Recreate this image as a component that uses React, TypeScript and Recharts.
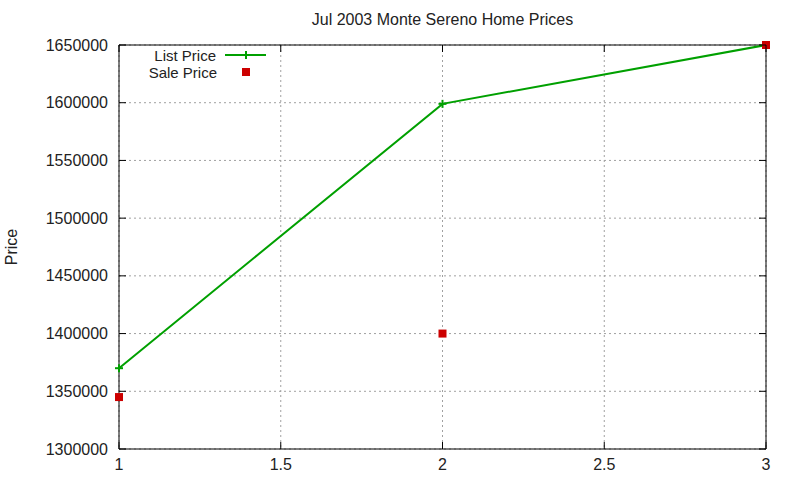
import React from "react";
import {
  LineChart,
  Line,
  XAxis,
  YAxis,
  CartesianGrid,
  ReferenceArea,
  Legend,
} from "recharts";

// Jul 2003 Monte Sereno list vs sale prices, gnuplot look.
const months = [1, 2, 3];
const listPrice = [1370000, 1599000, 1650000];
const salePrice = [1345000, 1400000, 1650000];
const xTicks = [1, 1.5, 2, 2.5, 3];
const yTicks = [1300000, 1350000, 1400000, 1450000, 1500000, 1550000, 1600000, 1650000];

const data = months.map((m, i) => ({ x: m, list: listPrice[i], sale: salePrice[i] }));

const GREEN = "#00a000";
const RED = "#cc0000";
const FONT = "'Liberation Sans', Arial, sans-serif";

const W = 800;
const H = 480;
const PLOT_LEFT = 119;
const PLOT_RIGHT = 766;
const PLOT_TOP = 45;
const PLOT_BOTTOM = 449;
const TICK = 7;

function PlusDot(props: any) {
  const { cx, cy } = props;
  if (cx == null || cy == null) return <g />;
  return (
    <g>
      <line x1={cx - 4} x2={cx + 4} y1={cy} y2={cy} stroke={GREEN} strokeWidth={2} />
      <line x1={cx} x2={cx} y1={cy - 4} y2={cy + 4} stroke={GREEN} strokeWidth={2} />
    </g>
  );
}

function SquareDot(props: any) {
  const { cx, cy } = props;
  if (cx == null || cy == null) return <g />;
  return <rect x={cx - 4} y={cy - 4} width={8} height={8} fill={RED} />;
}

function YTick(props: any) {
  const { y, payload } = props;
  return (
    <g>
      <line x1={PLOT_LEFT} x2={PLOT_LEFT + TICK} y1={y} y2={y} stroke="#000" />
      <line x1={PLOT_RIGHT - TICK} x2={PLOT_RIGHT} y1={y} y2={y} stroke="#000" />
      <text
        x={PLOT_LEFT - 11}
        y={y}
        textAnchor="end"
        dominantBaseline="central"
        fontSize={16}
        fontFamily={FONT}
        fill="#222"
      >
        {payload.value}
      </text>
    </g>
  );
}

function XTick(props: any) {
  const { x, payload } = props;
  return (
    <g>
      <line x1={x} x2={x} y1={PLOT_BOTTOM} y2={PLOT_BOTTOM - TICK} stroke="#000" />
      <line x1={x} x2={x} y1={PLOT_TOP} y2={PLOT_TOP + TICK} stroke="#000" />
      <text
        x={x}
        y={PLOT_BOTTOM + 15}
        textAnchor="middle"
        dominantBaseline="central"
        fontSize={16}
        fontFamily={FONT}
        fill="#222"
      >
        {payload.value}
      </text>
    </g>
  );
}

function KeyBox(props: any) {
  const items = props.payload || [];
  return (
    <svg width={150} height={38}>
      {items.map((it: any, i: number) => {
        const y = 9 + i * 17;
        const isLine = it.dataKey === "list";
        return (
          <g key={it.dataKey}>
            <text
              x={isLine ? 86 : 87}
              y={y}
              textAnchor="end"
              dominantBaseline="central"
              fontSize={15}
              fontFamily={FONT}
              fill="#222"
            >
              {it.value}
            </text>
            {isLine ? (
              <g>
                <line x1={95} x2={136} y1={y} y2={y} stroke={GREEN} strokeWidth={2} />
                <line x1={116} x2={116} y1={y - 4} y2={y + 4} stroke={GREEN} strokeWidth={2} />
              </g>
            ) : (
              <rect x={112} y={y - 4} width={8} height={8} fill={RED} />
            )}
          </g>
        );
      })}
    </svg>
  );
}

export default function App() {
  return (
    <div
      style={{
        position: "absolute",
        left: 0,
        top: 0,
        width: W,
        height: H,
        background: "#fff",
        fontFamily: FONT,
      }}
    >
      <div
        style={{
          position: "absolute",
          left: PLOT_LEFT,
          width: PLOT_RIGHT - PLOT_LEFT,
          top: 11,
          textAlign: "center",
          fontSize: 16,
          color: "#222",
        }}
      >
        Jul 2003 Monte Sereno Home Prices
      </div>
      <div
        style={{
          position: "absolute",
          left: 12,
          top: (PLOT_TOP + PLOT_BOTTOM) / 2,
          transform: "translate(-50%, -50%) rotate(-90deg)",
          fontSize: 16,
          color: "#222",
          whiteSpace: "nowrap",
        }}
      >
        Price
      </div>
      <LineChart
        width={W}
        height={H}
        data={data}
        margin={{ top: PLOT_TOP, right: W - PLOT_RIGHT, bottom: 0, left: 0 }}
      >
        <CartesianGrid stroke="#a0a0a0" strokeDasharray="2 3" />
        <XAxis
          dataKey="x"
          type="number"
          domain={[1, 3]}
          ticks={xTicks}
          height={H - PLOT_BOTTOM}
          axisLine={false}
          tickLine={false}
          tick={<XTick />}
          interval={0}
        />
        <YAxis
          type="number"
          domain={[1300000, 1650000]}
          ticks={yTicks}
          width={PLOT_LEFT}
          axisLine={false}
          tickLine={false}
          tick={<YTick />}
          interval={0}
        />
        <ReferenceArea
          x1={1}
          x2={3}
          y1={1300000}
          y2={1650000}
          fill="none"
          fillOpacity={0}
          stroke="#000"
          strokeWidth={1}
          ifOverflow="visible"
        />
        <Legend
          layout="vertical"
          align="center"
          verticalAlign="middle"
          content={<KeyBox />}
          wrapperStyle={{ position: "absolute", left: 130, top: 46, width: 150, height: 38 }}
        />
        <Line
          dataKey="list"
          name="List Price"
          stroke={GREEN}
          strokeWidth={2}
          dot={<PlusDot />}
          activeDot={false}
          isAnimationActive={false}
        />
        <Line
          dataKey="sale"
          name="Sale Price"
          stroke="none"
          dot={<SquareDot />}
          activeDot={false}
          isAnimationActive={false}
        />
      </LineChart>
    </div>
  );
}
